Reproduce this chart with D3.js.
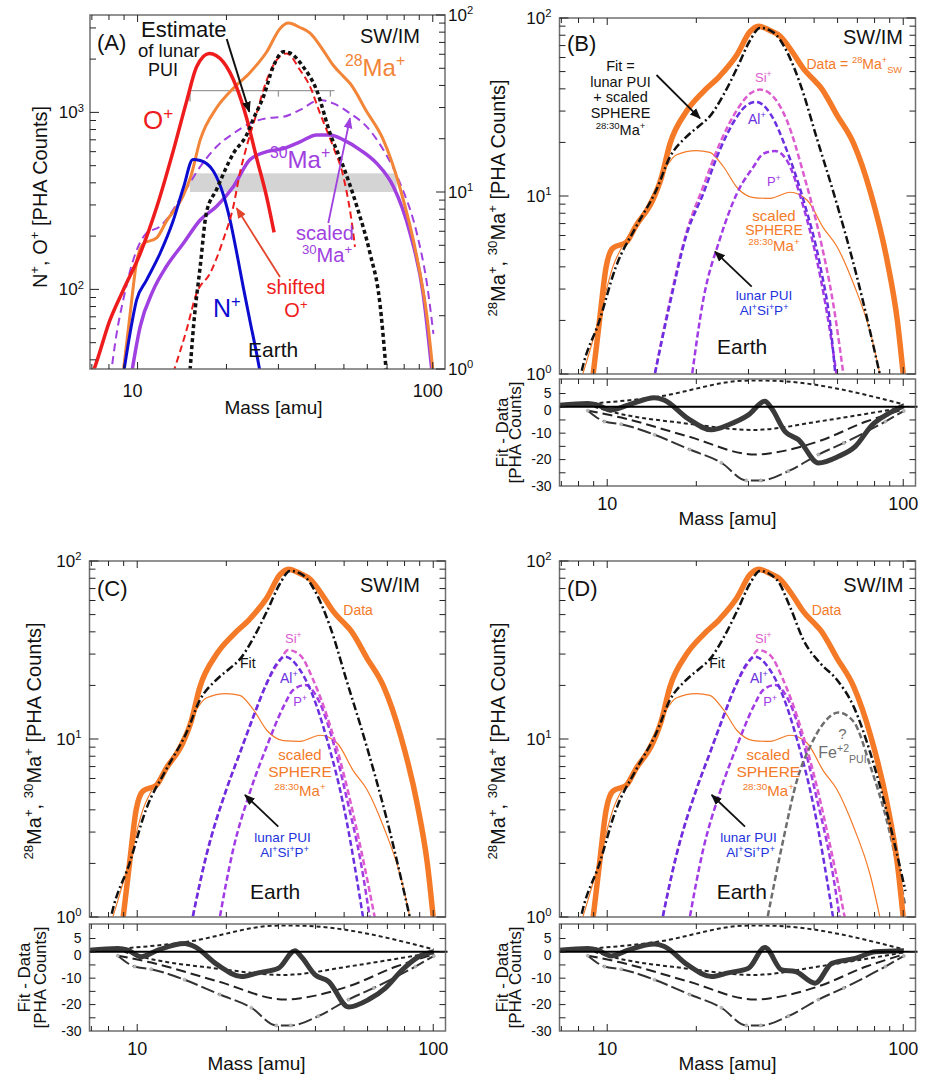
<!DOCTYPE html>
<html>
<head>
<meta charset="utf-8">
<script src="https://cdn.jsdelivr.net/npm/d3@7"></script>
<style>
  body { margin: 0; background: #fff; }
  svg { display: block; font-family: "Liberation Sans", Arial, Helvetica, sans-serif; }
</style>
</head>
<body>
<div id="chart"></div>
<script>
// ---- data (mass [amu], PHA counts) ----
const massDomain = [6.9, 110];

// panel A, left axis
const oPlus = [[7.0,33],[7.13,35.6],[8.06,67],[8.94,99],[10.2,159],[11.6,290],[13.2,604],[14.65,1150],[15.85,1810],[17.5,2150],[19.5,1930],[21.7,1370],[23.4,930],[25.3,553],[27.4,330],[29.0,210]];
const nPlus = [[8.95,33],[9.42,56],[9.92,87],[10.7,112],[11.9,159],[13.2,244],[14.3,376],[15.4,542],[16.3,535],[18.05,467],[19.5,345],[20.6,244],[21.7,159],[22.8,103],[24.0,67],[25.3,43.5],[26.1,33]];
// panel A, right axis
const ma30 = [[9.5,0.9],[10.2,1.73],[11.3,2.79],[12.5,3.78],[14.3,5.13],[16.3,6.95],[18.5,8.27],[21.1,10.7],[24.0,15.2],[27.4,16.9],[31.2,17.6],[35.5,19.2],[40.4,21.0],[44.9,21.0],[49.8,19.7],[56.7,17.3],[64.6,14.5],[73.6,10.7],[83.8,5.84],[92.7,2.68],[99.8,0.9]];
const scaled30 = [[8.1,0.9],[8.5,1.6],[8.94,2.45],[9.67,4.13],[10.7,5.84],[11.9,6.37],[14.3,9.83],[16.3,13.9],[18.5,18.0],[21.1,21.4],[24.0,24.4],[27.4,26.1],[31.2,26.6],[35.5,29.1],[41.5,33.1],[46,31.7],[52.5,27.8],[59.7,23.4],[68,17.3],[77.5,11.2],[88.3,5.84],[95.5,3.05],[100.5,1.58]];
const puiEstimate = [[15.0,0.9],[15.5,1.8],[16.3,3.8],[17.1,7.6],[18.5,10.3],[21.1,16.5],[23.4,21],[24.7,26],[26.7,34.6],[28.8,51],[31.2,62],[32.8,61],[36.4,51],[40.4,37.7],[44.9,21.4],[49.8,13.9],[55.3,8.3],[61.3,4.5],[66,2.45],[69.8,0.9]];
const shiftedO = [[13.2,0.95],[14.65,1.66],[15.85,2.68],[17.6,3.47],[19.5,5.36],[21.1,8.27],[22.2,12.75],[23.4,18.0],[25.3,27.8],[27.4,43],[29.6,55.7],[32.0,60.7],[35.5,48.9],[38.4,39.4],[41.5,27.8],[46,18.0],[49.8,12.2],[53.8,5.84],[54.5,4.9]];
const bandMass = [15.05, 75.5];
const bandCounts = [10, 12.75];
const bracketMass = [15.05, 46.5];
const bracketTicks = [15.05, 30, 45];
const bracketLevel = 37.4;

// 28Ma+ solar wind data, shared by all panels
const dataSW = [[8.9,0.9],[9.42,2.0],[9.92,4.0],[10.45,5.1],[11.6,5.5],[12.5,6.8],[14.3,9.6],[15.2,12.5],[16.3,19.7],[18.5,29.8],[21.1,38.5],[24.0,47.2],[27.4,62],[30.4,84],[32.4,90],[35.5,85],[38.4,79],[42.6,63],[46.0,52],[49.8,45],[52.5,41],[59.7,28.5],[68.0,19.7],[77.5,10.5],[88.3,4.3],[95.5,2.0],[100.6,0.9]];
const sphere = [[8.1,0.9],[8.27,1.0],[9.42,2.1],[10.45,4.0],[11.6,5.7],[13.2,8.0],[14.65,11.2],[15.85,14.6],[17.1,17.0],[20.0,18.0],[22.2,17.6],[24.7,14.6],[27.4,11.2],[31.2,9.8],[35.5,9.7],[41.5,10.5],[47.3,9.5],[53.8,6.6],[59.7,5.2],[68,3.2],[77.5,1.7],[84.5,0.9]];
const fitBC = [[8.0,0.85],[8.16,1.0],[9.42,2.0],[10.7,4.0],[12.5,6.7],[14.65,10.8],[16.3,16.6],[18.5,21.5],[20.6,25],[22.2,28],[24.7,37],[27.4,52],[30.4,75],[32.8,88],[36.4,83],[40.4,65],[45,42],[51.1,21],[59.7,9.0],[69.8,3.5],[84.5,0.9]];
const fitD = [[8.0,0.85],[8.16,1.0],[9.42,2.0],[10.7,4.0],[12.5,6.7],[14.65,10.8],[16.3,16.6],[18.5,21.5],[20.6,25],[22.2,28],[24.7,37],[27.4,52],[30.4,75],[32.8,88],[37.5,78],[41.5,55],[46,36],[52.5,26.6],[59.7,21.5],[68,15.2],[77.5,8.3],[88.3,3.8],[101.7,1.4]];

// lunar pickup ions
const siB = [[14.3,0.9],[16.3,2.6],[18.5,6.2],[21.1,11.3],[24.0,19.7],[27.4,30.3],[30.4,37.6],[32.8,39.6],[36.4,36.1],[40.4,26.7],[46,13.4],[52.5,5.7],[58.2,2.4],[63.3,0.9]];
const alB = [[14.3,0.9],[16.3,2.5],[18.5,6.0],[21.1,10.3],[24.0,18.1],[27.4,27.8],[29.6,32.4],[31.9,33.8],[35.5,29.1],[40.4,18.1],[46,9.5],[52.5,4.0],[56.7,1.9],[59.3,0.9]];
const pB = [[19.2,0.9],[21.1,2.6],[24,5.7],[27.4,10.3],[31.2,14.6],[33.7,17.3],[36.9,17.9],[40.4,15.9],[46,8.7],[52.5,3.5],[56.7,1.7],[60.0,0.9]];
const siC = [[15.2,0.9],[17.1,2.2],[20.0,5.2],[22.2,8.3],[24.7,13.4],[27.4,20.6],[30.4,27.8],[32.4,31.6],[35.5,29.6],[39.3,21.5],[43.8,13.4],[49.8,6.4],[56.7,2.5],[64.2,0.9]];
const alC = [[15.2,0.9],[17.1,2.2],[20.0,5.2],[22.2,8.3],[24.7,13.4],[27.4,20.6],[29.6,26.5],[31.6,29.0],[35.5,24.4],[39.3,17.3],[43.8,9.9],[49.8,4.2],[58.5,0.9]];
const pC = [[18.8,0.9],[21.1,2.4],[24.0,5.0],[27.4,9.1],[31.2,15.2],[33.7,18.9],[36.9,20.1],[40.4,17.3],[45.0,10.8],[51.1,4.6],[56.7,2.1],[61.6,0.9]];
const feD = [[34.4,0.9],[39.3,2.7],[43.8,5.9],[48.5,9.1],[53.9,12.3],[60.4,14.1],[68,12.5],[77.5,7.0],[88.3,3.4],[101.7,1.15]];

// residuals, Fit - Data [PHA counts]
const resUpper = [[8.0,0.9],[9.8,1.6],[14.45,3.6],[30,9.9],[34,9.9],[100.4,0.9]];
const resLower = [[8.6,0.8],[9.8,-1.2],[18.7,-6.4],[31.6,-8.8],[34.1,-8.6],[51.7,-5.6],[100.4,-0.3]];
const resDash = [[8.6,-1.5],[11.15,-4.1],[18.7,-11.2],[31.6,-18.1],[36,-17.5],[51.7,-13.1],[75,-5.6],[100.4,-1.0]];
const resDashDot = [[8.6,-1.5],[9.8,-5.6],[11.15,-6.6],[14.45,-10.6],[19,-16.2],[24.3,-21.2],[29.5,-27.9],[33,-27.9],[40.9,-24.4],[51.7,-18.1],[63,-13.7],[87,-5.6],[100.4,-1.6]];
const resB = [[6.9,0.6],[8.6,1.25],[9.3,0.6],[10.3,-1.25],[11.75,0.6],[14.45,3.4],[15.6,2.5],[18.7,-4.4],[22.5,-8.75],[25.6,-6.9],[30,-3.1],[34.1,2.1],[35.9,-0.6],[39.9,-9.4],[44.3,-12.5],[51.7,-21.25],[60.5,-18.75],[68.9,-15],[78.5,-6.9],[89.3,-2.5],[100.4,0.4]];
const resC = [[6.9,0.6],[8.6,1.25],[9.3,0.6],[10.3,-1.9],[11.75,0.6],[14.45,3.1],[15.6,2.0],[18.7,-5],[22.5,-9.4],[25.6,-8],[30,-6.25],[34.1,0.4],[35.9,-2],[39.9,-8.75],[44.3,-11.25],[51.7,-20.9],[60.5,-18.1],[68.9,-13.75],[78.5,-6.9],[89.3,-1.9],[100.4,0]];
const resD = [[6.9,0.6],[8.6,1.25],[9.3,0.6],[10.3,-1.6],[11.75,0.6],[14.45,2.9],[15.6,2.0],[18.7,-5],[22.5,-9.4],[25.6,-8],[30,-6.25],[34.1,1.6],[38.9,-6.9],[43.2,-7.5],[50.4,-11.9],[57.4,-4.4],[68.9,-2.5],[80.6,0],[100.4,0.4]];
const resTicks = [5, 0, -10, -20, -30];

// ---- layout ----
const W = 932, H = 1076;
const panels = {
  A: { left: 90, top: 15, w: 355, h: 354 },
  B: { left: 559.5, top: 18, w: 356, h: 356, resTop: 379, resH: 107, titleDx: -10, yTitle: -55, resT1: -52, resT2: -39 },
  C: { left: 89.5, top: 561, w: 356, h: 356, resTop: 924, resH: 107, titleDx: -11, yTitle: -49, resT1: -60, resT2: -44 },
  D: { left: 559.5, top: 561, w: 356, h: 356, resTop: 924, resH: 107, titleDx: -10, yTitle: -55, resT1: -52, resT2: -39 }
};

const C_ORANGE = "#f47a28", C_RED = "#ee1c1c", C_BLUE = "#0c0cd0", C_PURPLE = "#a040e0";
const C_SI = "#dc5ccf", C_AL = "#6a2fe0", C_P = "#a23ae6", C_FRAME = "#6f6f6f";

const svg = d3.select("#chart").append("svg").attr("width", W).attr("height", H);
const defs = svg.append("defs");

function arrowMarker(id, color) {
  defs.append("marker").attr("id", id).attr("viewBox", "0 0 10 10")
    .attr("refX", 9).attr("refY", 5).attr("markerWidth", 11).attr("markerHeight", 11)
    .attr("markerUnits", "userSpaceOnUse").attr("orient", "auto")
    .append("path").attr("d", "M0,1 L10,5 L0,9 Z").attr("fill", color);
}
arrowMarker("arr-k", "#111");
arrowMarker("arr-r", "#e2452c");
arrowMarker("arr-p", C_PURPLE);

function arrow(g, x1, y1, x2, y2, color, marker, width) {
  g.append("line").attr("x1", x1).attr("y1", y1).attr("x2", x2).attr("y2", y2)
    .attr("stroke", color).attr("stroke-width", width || 1.8)
    .attr("marker-end", `url(#${marker})`);
}

// text with super/subscripts; parts: "plain" or [text, "sup"|"sub"]
function rich(g, x, y, parts, o = {}) {
  const size = o.size || 14;
  const t = g.append("text").attr("x", x).attr("y", y).attr("font-size", size)
    .attr("fill", o.color || "#111").attr("text-anchor", o.anchor || "start")
    .style("white-space", "pre");
  let cur = 0;
  parts.forEach(p => {
    const [s, k] = typeof p === "string" ? [p, ""] : p;
    const off = k === "sup" ? -0.4 * size : k === "sub" ? 0.3 * size : 0;
    t.append("tspan").attr("dy", off - cur).attr("font-size", k ? size * 0.66 : size).text(s);
    cur = off;
  });
  if (o.rotate) t.attr("transform", `rotate(-90 ${x} ${y})`);
  return t;
}

function plotLine(g, x, y, data, s) {
  const line = d3.line().x(d => x(d[0])).y(d => y(d[1])).curve(d3.curveMonotoneX);
  return g.append("path").datum(data).attr("d", line).attr("fill", "none")
    .attr("stroke", s.color).attr("stroke-width", s.width)
    .attr("stroke-dasharray", s.dash || null)
    .attr("stroke-linejoin", "round");
}

const isDecade = v => Math.abs(Math.log10(v) - Math.round(Math.log10(v))) < 1e-6;

function clipRect(id, w, h) {
  defs.append("clipPath").attr("id", id).append("rect").attr("width", w).attr("height", h);
}

function frame(g, w, h) {
  g.append("rect").attr("width", w).attr("height", h).attr("fill", "none")
    .attr("stroke", C_FRAME).attr("stroke-width", 1.5);
}

function xTicks(g, x, h) {
  x.ticks().forEach(v => {
    const px = x(v), L = isDecade(v) ? 7 : 5;
    g.append("line").attr("x1", px).attr("x2", px).attr("y1", h).attr("y2", h - L).attr("stroke", "#222");
    g.append("line").attr("x1", px).attr("x2", px).attr("y1", 0).attr("y2", L).attr("stroke", "#222");
  });
}

function yTicks(g, y, vals, w, side) {
  vals.forEach(v => {
    const py = y(v), L = isDecade(v) ? 9 : 6;
    if (side !== "right") g.append("line").attr("x1", 0).attr("x2", L).attr("y1", py).attr("y2", py).attr("stroke", "#222");
    if (side !== "left") g.append("line").attr("x1", w).attr("x2", w - L).attr("y1", py).attr("y2", py).attr("stroke", "#222");
  });
}

function xLabels(g, x, yPos, dx) {
  [10, 100].forEach(v => {
    g.append("text").attr("x", x(v) + (dx || 0)).attr("y", yPos).attr("text-anchor", "middle")
      .attr("font-size", 18).attr("fill", "#111").text(v);
  });
}

function decadeLabels(g, y, vals, xPos, anchor) {
  vals.forEach(v => rich(g, xPos, y(v) + 6, ["10", [String(Math.round(Math.log10(v))), "sup"]],
    { size: 17, anchor: anchor }));
}

// ================= Panel A =================
(function() {
  const p = panels.A;
  const g = svg.append("g").attr("transform", `translate(${p.left},${p.top})`);
  const x = d3.scaleLog().domain(massDomain).range([0, p.w]);
  const yL = d3.scaleLog().domain([35.5, 3550]).range([p.h, 0]);
  const yR = d3.scaleLog().domain([1, 100]).range([p.h, 0]);
  clipRect("clip-A", p.w, p.h);
  const plot = g.append("g").attr("clip-path", "url(#clip-A)");

  plot.append("rect").attr("x", x(bandMass[0])).attr("width", x(bandMass[1]) - x(bandMass[0]))
    .attr("y", yR(bandCounts[1])).attr("height", yR(bandCounts[0]) - yR(bandCounts[1]))
    .attr("fill", "#d4d4d4");
  const by = yR(bracketLevel);
  plot.append("line").attr("x1", x(bracketMass[0])).attr("x2", x(bracketMass[1]))
    .attr("y1", by).attr("y2", by).attr("stroke", "#9a9a9a").attr("stroke-width", 1.3);
  bracketTicks.forEach((v, i) => plot.append("line").attr("x1", x(v)).attr("x2", x(v))
    .attr("y1", by).attr("y2", by + (i === 0 ? 11 : 6)).attr("stroke", "#9a9a9a").attr("stroke-width", 1.3));

  plotLine(plot, x, yR, ma30, { color: C_PURPLE, width: 3.5 });
  plotLine(plot, x, yR, scaled30, { color: C_PURPLE, width: 2, dash: "8,5" });
  plotLine(plot, x, yR, dataSW, { color: "#f28538", width: 3 });
  plotLine(plot, x, yL, nPlus, { color: C_BLUE, width: 3 });
  plotLine(plot, x, yL, oPlus, { color: C_RED, width: 3.5 });
  plotLine(plot, x, yR, shiftedO, { color: C_RED, width: 2, dash: "7,4" });
  plotLine(plot, x, yR, puiEstimate, { color: "#111", width: 3.5, dash: "4,3" });

  frame(g, p.w, p.h);
  xTicks(g, x, p.h);
  yTicks(g, yL, yL.ticks(), p.w, "left");
  yTicks(g, yR, yR.ticks(), p.w, "right");
  decadeLabels(g, yL, [100, 1000], -6, "end");
  decadeLabels(g, yR, [1, 10, 100], p.w + 3, "start");
  xLabels(g, x, p.h + 28, -5);
  g.append("text").attr("x", p.w / 2 + 6).attr("y", p.h + 45).attr("text-anchor", "middle")
    .attr("font-size", 19).attr("fill", "#111").text("Mass [amu]");
  rich(g, -43, p.h / 2 + 5, ["N", ["+", "sup"], ", O", ["+", "sup"], " [PHA Counts]"],
    { size: 20, anchor: "middle", rotate: true });

  rich(g, 7, 35, ["(A)"], { size: 22 });
  rich(g, 330, 28, ["SW/IM"], { size: 20, anchor: "end" });
  rich(g, 51, 22, ["Estimate"], { size: 22 });
  rich(g, 48, 42, ["of lunar"], { size: 18.5 });
  rich(g, 58, 61, ["PUI"], { size: 18 });
  arrow(g, 136.7, 24, 159.3, 96.7, "#111", "arr-k", 2);
  rich(g, 53, 114, ["O", ["+", "sup"]], { size: 26, color: C_RED });
  rich(g, 255, 61, [["28", "sup"], "Ma", ["+", "sup"]], { size: 24, color: "#f28538" });
  rich(g, 180, 153, [["30", "sup"], "Ma", ["+", "sup"]], { size: 24, color: C_PURPLE });
  rich(g, 235, 225, ["scaled"], { size: 20, color: C_PURPLE, anchor: "middle" });
  rich(g, 237, 247, [["30", "sup"], "Ma", ["+", "sup"]], { size: 20, color: C_PURPLE, anchor: "middle" });
  arrow(g, 238.3, 208, 260, 103.3, C_PURPLE, "arr-p", 1.8);
  rich(g, 206, 279, ["shifted"], { size: 20, color: C_RED, anchor: "middle" });
  rich(g, 206, 302, ["O", ["+", "sup"]], { size: 20, color: C_RED, anchor: "middle" });
  arrow(g, 190, 262, 146.7, 193.3, "#e2452c", "arr-r", 1.8);
  rich(g, 123, 302, ["N", ["+", "sup"]], { size: 25, color: C_BLUE });
  rich(g, 158, 342, ["Earth"], { size: 21 });
})();

// ================= Panels B, C, D =================
function fitPanel(key, cfg) {
  const p = panels[key];
  const g = svg.append("g").attr("transform", `translate(${p.left},${p.top})`);
  const x = d3.scaleLog().domain(massDomain).range([0, p.w]);
  const y = d3.scaleLog().domain([1, 100]).range([p.h, 0]);
  clipRect("clip-" + key, p.w, p.h);
  const plot = g.append("g").attr("clip-path", `url(#clip-${key})`);

  plotLine(plot, x, y, sphere, { color: C_ORANGE, width: 1.2 });
  plotLine(plot, x, y, cfg.pui[2], { color: C_P, width: 2.5, dash: "6,3" });
  plotLine(plot, x, y, cfg.pui[0], { color: C_SI, width: 2.5, dash: "6,3" });
  plotLine(plot, x, y, cfg.pui[1], { color: C_AL, width: 2.5, dash: "6,3" });
  if (cfg.fe) plotLine(plot, x, y, cfg.fe, { color: "#6e6e6e", width: 2.5, dash: "6,3" });
  plotLine(plot, x, y, dataSW, { color: C_ORANGE, width: 5.5 });
  plotLine(plot, x, y, cfg.fit, { color: "#111", width: 2.5, dash: "8,3,2,3" });

  frame(g, p.w, p.h);
  xTicks(g, x, p.h);
  yTicks(g, y, y.ticks(), p.w, "both");
  decadeLabels(g, y, [1, 10, 100], -8, "end");
  rich(g, p.yTitle, p.h / 2 + 2, [["28", "sup"], "Ma", ["+", "sup"], ", ", ["30", "sup"], "Ma", ["+", "sup"], " [PHA Counts]"],
    { size: 20, anchor: "middle", rotate: true });

  // residual panel
  const rg = svg.append("g").attr("transform", `translate(${p.left},${p.resTop})`);
  const yr = d3.scaleLinear().domain([-30, 10.5]).range([p.resH, 0]);
  clipRect("rclip-" + key, p.w, p.resH);
  const rplot = rg.append("g").attr("clip-path", `url(#rclip-${key})`);
  plotLine(rplot, x, yr, resUpper, { color: "#222", width: 2, dash: "4,3" });
  plotLine(rplot, x, yr, resLower, { color: "#222", width: 2, dash: "4,3" });
  plotLine(rplot, x, yr, resDash, { color: "#222", width: 2, dash: "10,5" });
  plotLine(rplot, x, yr, resDashDot, { color: "#333", width: 2, dash: "14,4" });
  rplot.selectAll(".dd").data(resDashDot).join("circle")
    .attr("cx", d => x(d[0])).attr("cy", d => yr(d[1])).attr("r", 1.6)
    .attr("fill", "#bbb").attr("stroke", "#999").attr("stroke-width", 0.5);
  rg.append("line").attr("x1", 0).attr("x2", p.w + 2).attr("y1", yr(0)).attr("y2", yr(0))
    .attr("stroke", "#000").attr("stroke-width", 2);
  plotLine(rplot, x, yr, cfg.res, { color: "#3a3a3a", width: 5 });

  frame(rg, p.w, p.resH);
  xTicks(rg, x, p.resH);
  d3.range(-25, 10, 5).forEach(v => {
    rg.append("line").attr("x1", 0).attr("x2", 6).attr("y1", yr(v)).attr("y2", yr(v)).attr("stroke", "#222");
    rg.append("line").attr("x1", p.w).attr("x2", p.w - 6).attr("y1", yr(v)).attr("y2", yr(v)).attr("stroke", "#222");
  });
  resTicks.forEach(v => rg.append("text").attr("x", -8).attr("y", yr(v) + (v === 0 ? 8 : 4.5))
    .attr("text-anchor", "end").attr("font-size", 14).attr("fill", "#111").text(v));
  rich(rg, p.resT1, p.resH / 2, ["Fit - Data"], { size: 17, anchor: "middle", rotate: true });
  rich(rg, p.resT2, p.resH / 2, ["[PHA Counts]"], { size: 17, anchor: "middle", rotate: true });
  xLabels(rg, x, p.resH + 24);
  rg.append("text").attr("x", p.w / 2 + p.titleDx).attr("y", p.resH + 39).attr("text-anchor", "middle")
    .attr("font-size", 19).attr("fill", "#111").text("Mass [amu]");
  return g;
}

const gB = fitPanel("B", { pui: [siB, alB, pB], fit: fitBC, res: resB });
const gC = fitPanel("C", { pui: [siC, alC, pC], fit: fitBC, res: resC });
const gD = fitPanel("D", { pui: [siC, alC, pC], fit: fitD, fe: feD, res: resD });

// ---- annotations B ----
rich(gB, 7.5, 33, ["(B)"], { size: 22 });
rich(gB, 343.5, 26, ["SW/IM"], { size: 20, anchor: "end" });
rich(gB, 247, 51, ["Data = ", ["28", "sup"], "Ma", ["+", "sup"], ["SW", "sub"]], { size: 14, color: C_ORANGE });
[["Fit ="], ["lunar PUI"], ["+ scaled"], ["SPHERE"], [["28:30", "sup"], "Ma", ["+", "sup"]]]
  .forEach((parts, i) => rich(gB, 61, 53 + i * 15.5 + (i === 4 ? 2 : 0), parts, { size: 14.5, anchor: "middle" }));
arrow(gB, 97, 57, 140.5, 100.3, "#111", "arr-k", 1.8);
rich(gB, 195.5, 64, ["Si", ["+", "sup"]], { size: 13, color: C_SI });
rich(gB, 188.5, 106, ["Al", ["+", "sup"]], { size: 14, color: C_AL });
rich(gB, 207.5, 168, ["P", ["+", "sup"]], { size: 13, color: C_P });
rich(gB, 214.5, 203, ["scaled"], { size: 15, color: C_ORANGE, anchor: "middle" });
rich(gB, 214.5, 217, ["SPHERE"], { size: 14, color: C_ORANGE, anchor: "middle" });
rich(gB, 214.5, 233, [["28:30", "sup"], "Ma", ["+", "sup"]], { size: 15, color: C_ORANGE, anchor: "middle" });
arrow(gB, 192.2, 268.7, 155.5, 233.7, "#111", "arr-k", 1.8);
rich(gB, 204.5, 282, ["lunar PUI"], { size: 13.5, color: "#2233dd", anchor: "middle" });
rich(gB, 204.5, 297, ["Al", ["+", "sup"], "Si", ["+", "sup"], "P", ["+", "sup"]], { size: 13.5, color: "#2233dd", anchor: "middle" });
rich(gB, 157.5, 336, ["Earth"], { size: 21 });

// ---- annotations C and D ----
function lowerNotes(g, o) {
  rich(g, 7.5, 35, [o.tag], { size: 22 });
  rich(g, o.swx, 31, ["SW/IM"], { size: 20, anchor: "end" });
  rich(g, o.datax, 54, ["Data"], { size: 14, color: C_ORANGE });
  rich(g, o.fitx, 107, ["Fit"], { size: 14 });
  rich(g, 195.5, 82, ["Si", ["+", "sup"]], { size: 13, color: C_SI });
  rich(g, 190.5, 122, ["Al", ["+", "sup"]], { size: 14, color: C_AL });
  rich(g, 203.8, 145, ["P", ["+", "sup"]], { size: 13, color: C_P });
  rich(g, o.sx, 199, ["scaled"], { size: 15, color: C_ORANGE, anchor: "middle" });
  rich(g, o.sx, 216, ["SPHERE"], { size: 15.5, color: C_ORANGE, anchor: "middle" });
  rich(g, o.sx, 235, [["28:30", "sup"], "Ma", ["+", "sup"]], { size: 15, color: C_ORANGE, anchor: "middle" });
  arrow(g, o.ax, 265.7, o.ax - 33.3, 234, "#111", "arr-k", 1.8);
  rich(g, o.lx, 280.7, ["lunar PUI"], { size: 13.5, color: "#2233dd", anchor: "middle" });
  rich(g, o.lx + 2, 296.3, ["Al", ["+", "sup"], "Si", ["+", "sup"], "P", ["+", "sup"]], { size: 13.5, color: "#2233dd", anchor: "middle" });
  rich(g, o.ex, 338.3, ["Earth"], { size: 21 });
}
lowerNotes(gC, { tag: "(C)", swx: 330.5, datax: 253.8, fitx: 150.5, sx: 210.5, ax: 188.8, lx: 193, ex: 160.5 });
lowerNotes(gD, { tag: "(D)", swx: 343.8, datax: 252.2, fitx: 149.8, sx: 208.8, ax: 185.5, lx: 189, ex: 157.2 });
rich(gD, 278.8, 178.3, ["?"], { size: 15, color: "#6e6e6e" });
rich(gD, 258.8, 197.3, ["Fe", ["+2", "sup"], ["PUI", "sub"]], { size: 16, color: "#6e6e6e" });
</script>
</body>
</html>
